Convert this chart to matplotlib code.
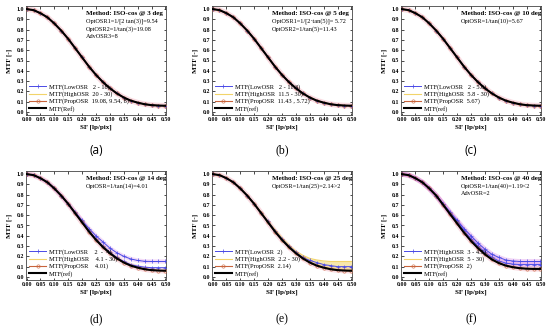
import numpy as np
import matplotlib
matplotlib.use("Agg")
import matplotlib.pyplot as plt

sf = [0.0, 0.025, 0.05, 0.075, 0.1, 0.125, 0.15, 0.175, 0.2, 0.225, 0.25,
      0.275, 0.3, 0.325, 0.35, 0.375, 0.4, 0.425, 0.45, 0.475, 0.5]

mtf_ref = [1.0, 0.99, 0.96, 0.92, 0.86, 0.79, 0.71, 0.62, 0.53, 0.44, 0.36,
           0.29, 0.23, 0.18, 0.14, 0.11, 0.09, 0.075, 0.066, 0.062, 0.06]
mtf_ref_f = [1.0, 0.99, 0.96, 0.92, 0.86, 0.79, 0.70, 0.61, 0.52, 0.43, 0.35,
             0.28, 0.22, 0.17, 0.135, 0.11, 0.095, 0.085, 0.08, 0.078, 0.078]

# panel d
d_low_a = [1.0, 0.99, 0.96, 0.92, 0.86, 0.79, 0.71, 0.63, 0.55, 0.47, 0.40,
           0.34, 0.28, 0.235, 0.20, 0.175, 0.16, 0.152, 0.15, 0.15, 0.15]
d_low_b = [1.0, 0.99, 0.96, 0.92, 0.86, 0.79, 0.71, 0.62, 0.54, 0.45, 0.37,
           0.30, 0.24, 0.19, 0.15, 0.12, 0.105, 0.095, 0.09, 0.09, 0.09]
# panel e
e_high_a = [1.0, 0.99, 0.96, 0.92, 0.86, 0.79, 0.71, 0.63, 0.54, 0.46, 0.38,
            0.31, 0.25, 0.21, 0.18, 0.165, 0.155, 0.15, 0.15, 0.15, 0.15]
e_low = [1.0, 0.99, 0.96, 0.92, 0.86, 0.79, 0.71, 0.62, 0.54, 0.45, 0.37,
         0.30, 0.24, 0.19, 0.16, 0.14, 0.12, 0.11, 0.10, 0.10, 0.10]
# panel f
f_high_a = [1.0, 0.99, 0.96, 0.92, 0.86, 0.79, 0.71, 0.63, 0.55, 0.47, 0.40,
            0.33, 0.27, 0.22, 0.19, 0.165, 0.155, 0.15, 0.15, 0.15, 0.15]
f_high_b = [1.0, 0.99, 0.96, 0.92, 0.86, 0.79, 0.71, 0.62, 0.54, 0.45, 0.37,
            0.30, 0.24, 0.19, 0.155, 0.135, 0.125, 0.12, 0.12, 0.12, 0.12]

x_ticks = [0.0, 0.05, 0.1, 0.15, 0.2, 0.25, 0.3, 0.35, 0.4, 0.45, 0.5]
y_ticks = [0.0, 0.1, 0.2, 0.3, 0.4, 0.5, 0.6, 0.7, 0.8, 0.9, 1.0]

titles = ["Method: ISO-cos @ 3 deg", "Method: ISO-cos @ 5 deg", "Method: ISO-cos @ 10 deg",
          "Method: ISO-cos @ 14 deg", "Method: ISO-cos @ 25 deg", "Method: ISO-cos @ 40 deg"]
notes = [["OptOSR1=1/[2 tan(3)]=9.54", "OptOSR2=1/tan(3)=19.08", "AdvOSR3=8"],
         ["OptOSR1=1/[2·tan(5)]= 5.72", "OptOSR2=1/tan(5)=11.43"],
         ["OptOSR=1/tan(10)=5.67"],
         ["OptOSR=1/tan(14)=4.01"],
         ["OptOSR=1/tan(25)=2.14>2"],
         ["OptOSR=1/tan(40)=1.19<2", "AdvOSR=2"]]
legends = [["MTF(LowOSR   2 - 18)", "MTF(HighOSR  20 - 30)", "MTF(PropOSR  19.08, 9.54, 8)", "MTF(Ref)"],
           ["MTF(LowOSR   2 - 11.3)", "MTF(HighOSR  11.5 - 30)", "MTF(PropOSR  11.43 , 5.72)", "MTF(ref)"],
           ["MTF(LowOSR   2 - 5.6)", "MTF(HighOSR  5.8 - 30)", "MTF(PropOSR  5.67)", "MTF(ref)"],
           ["MTF(LowOSR    2  -  4)", "MTF(HighOSR    4.1 - 30)", "MTF(PropOSR    4.01)", "MTF(ref)"],
           ["MTF(LowOSR  2)", "MTF(HighOSR  2.2 - 30)", "MTF(PropOSR  2.14)", "MTF(ref)"],
           ["MTF(HighOSR  3 - 4.5)", "MTF(HighOSR  5 - 30)", "MTF(PropOSR  2)", "MTF(ref)"]]
captions = ["(a)", "(b)", "(c)", "(d)", "(e)", "(f)"]

panel_low = [[mtf_ref], [mtf_ref], [mtf_ref], [d_low_a, d_low_b], [e_low], [f_high_a, f_high_b]]
panel_high = [[mtf_ref], [mtf_ref], [mtf_ref], [mtf_ref], [e_high_a, mtf_ref], [mtf_ref_f]]
panel_prop = [mtf_ref, mtf_ref, mtf_ref, mtf_ref, mtf_ref, mtf_ref_f]
panel_ref = [mtf_ref, mtf_ref, mtf_ref, mtf_ref, mtf_ref, mtf_ref_f]

W, H = 550, 328
fig = plt.figure(figsize=(W / 100, H / 100), dpi=100)
fig.patch.set_facecolor("white")
SERIF = "Liberation Serif"

cols = [(26, 166), (212, 352), (401, 541)]
rows = [(6, 115), (171, 280)]

BLUE = "#4a4ae6"
YEL = "#f2d46a"
PROP = "#c8643c"
PINK = "#f6c4ce"

for i in range(6):
    r, c = divmod(i, 3)
    x0, x1 = cols[c]
    y0, y1 = rows[r]
    ax = fig.add_axes([x0 / W, 1 - y1 / H, (x1 - x0) / W, (y1 - y0) / H])
    ax.plot(sf, panel_ref[i], color=PINK, lw=4, alpha=0.6, solid_capstyle="round", zorder=1)
    if i == 5:
        ax.plot(sf, panel_low[i][0], color="#d070e0", lw=3.5, alpha=0.3, zorder=1)
        ax.plot(sf, panel_low[i][1], color="#d070e0", lw=3.5, alpha=0.3, zorder=1)
    if i == 3:
        ax.plot(sf, panel_low[i][0], color="#d070e0", lw=3, alpha=0.25, zorder=1)
    if i == 4:
        ax.fill_between(sf, panel_ref[i], e_high_a, color=YEL, alpha=0.55, lw=0, zorder=1)
    hl = None
    for k, curve in enumerate(panel_low[i]):
        h, = ax.plot(sf, curve, color=BLUE, lw=0.7, marker="+", ms=2.2, mew=0.5, zorder=3)
        if k == 0:
            hl = h
    hh = None
    for k, curve in enumerate(panel_high[i]):
        h, = ax.plot(sf, curve, color=YEL, lw=0.8, zorder=2)
        if k == 0:
            hh = h
    hp, = ax.plot(sf, panel_prop[i], color=PROP, lw=0.8, marker="o", ms=2.4, mfc="none",
                  mew=0.4, zorder=4)
    hr, = ax.plot(sf, panel_ref[i], color="black", lw=1.5, zorder=5)

    ax.set_xlim(-0.002, 0.502)
    ax.set_ylim(-0.03, 1.03)
    ax.set_xticks(x_ticks)
    ax.set_yticks(y_ticks)
    ax.set_xticklabels(["%.2f" % v for v in x_ticks], fontsize=4.2, fontfamily=SERIF,
                       fontweight="bold")
    ax.set_yticklabels(["%.1f" % v for v in y_ticks], fontsize=4.2, fontfamily=SERIF,
                       fontweight="bold")
    ax.tick_params(direction="in", length=1.8, width=0.5, pad=1.5, top=True, right=True)
    for s in ax.spines.values():
        s.set_linewidth(0.6)
        s.set_color("#444444")
    ax.set_xlabel("SF [lp/pix]", fontsize=5, fontfamily=SERIF, fontweight="bold", labelpad=2)
    ax.set_ylabel("MTF [-]", fontsize=5, fontfamily=SERIF, fontweight="bold", labelpad=3)

    ax.text(0.43, 0.935, titles[i], transform=ax.transAxes, fontsize=5.0, fontfamily=SERIF,
            fontweight="bold", va="center", ha="left")
    for j, t in enumerate(notes[i]):
        ax.text(0.43, 0.86 - j * 0.07, t, transform=ax.transAxes, fontsize=4.5,
                fontfamily=SERIF, va="center", ha="left")

    ax.legend([hl, hh, hp, hr], legends[i], loc="lower left",
              bbox_to_anchor=(0.0, 0.0), frameon=False,
              prop={"family": SERIF, "size": 4.6}, handlelength=2.6,
              handletextpad=0.5, labelspacing=0.22, borderaxespad=0.3,
              borderpad=0.2)

    cx = (x0 + x1) / 2 / W
    cy = 1 - (150 if r == 0 else 319) / H
    fam = "Open Sans" if i in (0, 2) else SERIF
    fig.text(cx, cy, captions[i], fontsize=8.5, fontfamily=fam, ha="center", va="center")

fig.savefig("out.png", dpi=100, facecolor="white")
